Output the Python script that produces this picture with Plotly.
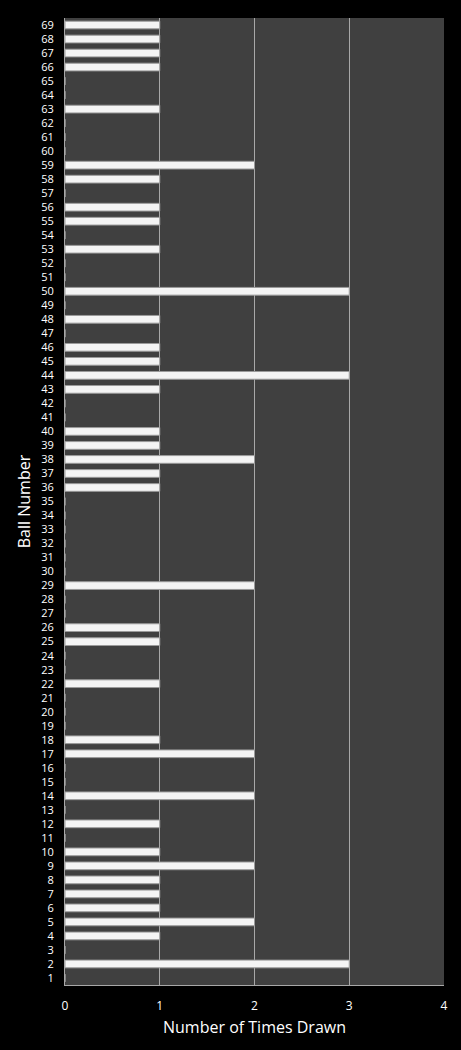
import plotly.graph_objects as go

balls = list(range(1, 70))
counts = [0, 3, 0, 1, 2, 1, 1, 1, 2, 1,
          0, 1, 0, 2, 0, 0, 2, 1, 0, 0,
          0, 1, 0, 0, 1, 1, 0, 0, 2, 0,
          0, 0, 0, 0, 0, 1, 1, 2, 1, 1,
          0, 0, 1, 3, 1, 1, 0, 1, 0, 3,
          0, 0, 1, 0, 1, 1, 0, 1, 2, 0,
          0, 0, 1, 0, 0, 1, 1, 1, 1]
x_ticks = [0, 1, 2, 3, 4]

fig = go.Figure(go.Bar(
    x=counts, y=[str(b) for b in balls], orientation="h",
    marker=dict(color="#f4f4f4", line=dict(color="#9a9a9a", width=1)),
))

fig.update_layout(
    width=461, height=1050,
    margin=dict(l=65, r=17, t=18, b=65),
    paper_bgcolor="#000000", plot_bgcolor="#404040",
    bargap=0.45, showlegend=False,
    font=dict(family="Open Sans, DejaVu Sans", color="#ffffff", size=12),
    xaxis=dict(range=[0, 4], tickvals=x_ticks, showgrid=True, gridcolor="#a8a8a8", gridwidth=1,
               zeroline=False, showline=True, linecolor="#a8a8a8", linewidth=1,
               ticks="outside", ticklen=10, tickcolor="rgba(0,0,0,0)",
               title=dict(text="Number of Times Drawn", font=dict(size=16), standoff=8),
               tickfont=dict(size=12)),
    yaxis=dict(type="category", categoryorder="array", categoryarray=[str(b) for b in balls],
               showgrid=False, zeroline=False, showline=True, linecolor="#a8a8a8", linewidth=1,
               ticks="outside", ticklen=8, tickcolor="rgba(0,0,0,0)",
               title=dict(text="Ball Number", font=dict(size=16), standoff=6),
               tickfont=dict(size=11)),
)

fig.write_html("out.html")
